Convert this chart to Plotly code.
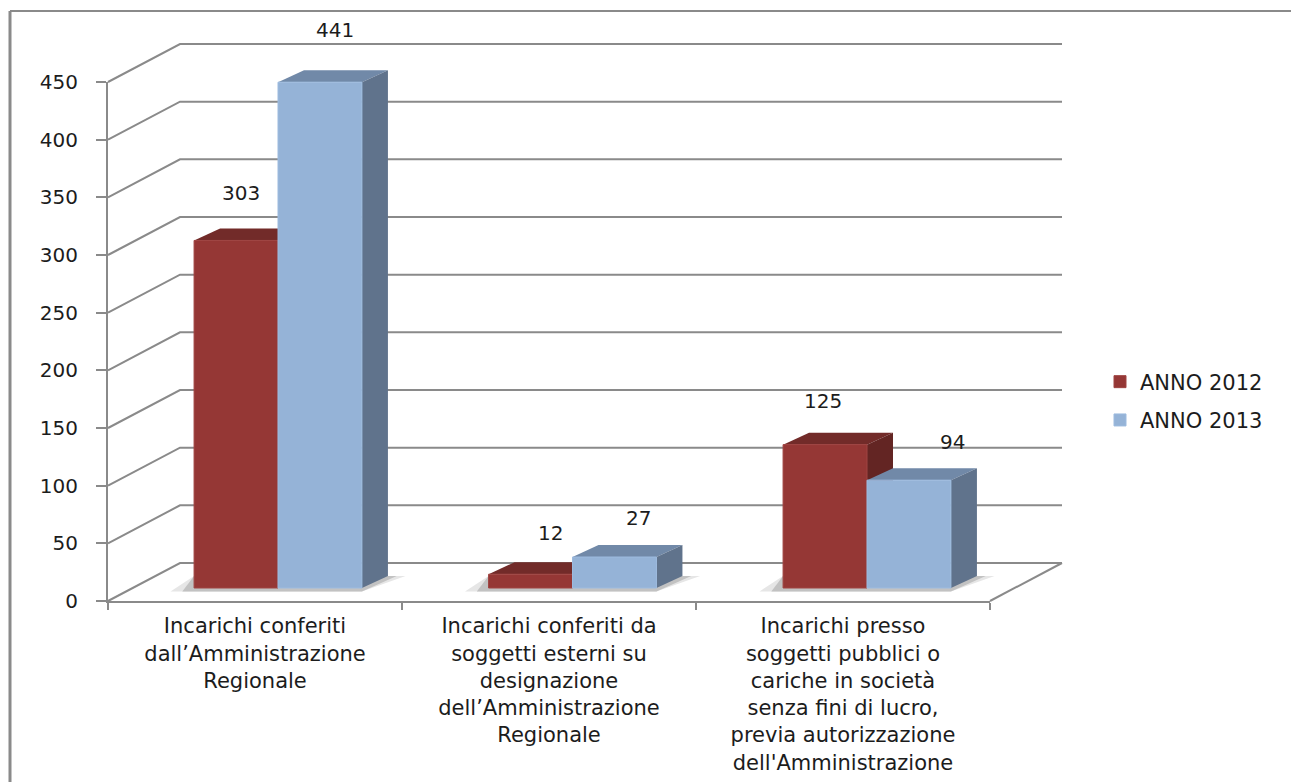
import plotly.graph_objects as go

categorie = [
    "Incarichi conferiti<br>dall’Amministrazione<br>Regionale",
    "Incarichi conferiti da<br>soggetti esterni su<br>designazione<br>dell’Amministrazione<br>Regionale",
    "Incarichi presso<br>soggetti pubblici o<br>cariche in società<br>senza fini di lucro,<br>previa autorizzazione<br>dell'Amministrazione",
]
anno_2012 = [303, 12, 125]
anno_2013 = [441, 27, 94]
tick_valori = [0, 50, 100, 150, 200, 250, 300, 350, 400, 450]

# the browser leaves an 8px body margin, so everything below is page px minus 8
W, H = 1291, 774
GRIGIO = "#8a8a8a"
TESTO = "#1c1c1c"
FONT = "DejaVu Sans"
BARGAP = 0.43
SCALA_BARRE = 1.147  # px per unit on the plane of the bars


def fx(px):
    return (px - 8) / W


def fy(py):
    return 1 - (py - 8) / H


def fy_muro(valore):
    # same scale as the left axis, in paper units: shapes on yref y get clipped at 450
    return fy(601) + valore / 450 * (fy(82) - fy(601))


posizioni = list(range(len(categorie)))
w = (1 - BARGAP) / 2      # bar width in category units
dx = 26 / 294.5           # depth of the bars
dy = 12 / SCALA_BARRE

fig = go.Figure()

# keeps the front axis alive, the bars live on the shifted x2/y2 plane
fig.add_trace(go.Scatter(x=categorie, y=[None] * 3, showlegend=False, hoverinfo="skip"))
fig.add_trace(go.Bar(x=posizioni, y=anno_2012, name="ANNO 2012", xaxis="x2", yaxis="y2", legendgroup="a",
                     marker=dict(color="#953735", line=dict(color="#9f4442", width=1))))
fig.add_trace(go.Bar(x=posizioni, y=anno_2013, name="ANNO 2013", xaxis="x2", yaxis="y2", legendgroup="b",
                     marker=dict(color="#95b3d7", line=dict(color="#9dbbdf", width=1))))

shapes = []


def linea_muro(anchor_x, valore, path):
    return dict(type="path", path=path, xref="paper", yref="paper", xsizemode="pixel", ysizemode="pixel",
                xanchor=anchor_x, yanchor=fy_muro(valore), layer="below", line=dict(color=GRIGIO, width=2))


for t in tick_valori:
    shapes.append(linea_muro(fx(108), t, "M 0,0 L 72,38 L 954,38"))
shapes.append(linea_muro(fx(990), 0, "M 0,0 L 72,38"))


def ombra(sinistra, destra):
    # soft floor shadow round the pair of bars
    for colore, off in (("#e6e6e6", 1.0), ("#c2c2c2", 0.5)):
        shapes.append(dict(
            type="path", xref="x2", yref="y2", layer="below", line=dict(width=0), fillcolor=colore,
            path=f"M {sinistra - 0.08 * off},-3 L {sinistra},{dy} L {destra + dx},{dy} "
                 f"L {destra + dx + 0.06 * off},{dy} L {destra},-3 Z"))


def facce(left, right, valore, col_top, col_side):
    top = f"M {left},{valore} L {left + dx},{valore + dy} L {right + dx},{valore + dy} L {right},{valore} Z"
    side = f"M {right},{valore} L {right + dx},{valore + dy} L {right + dx},{dy} L {right},0 Z"
    shapes.append(dict(type="path", path=top, xref="x2", yref="y2", layer="below",
                       fillcolor=col_top, line=dict(width=0)))
    shapes.append(dict(type="path", path=side, xref="x2", yref="y2", layer="below",
                       fillcolor=col_side, line=dict(width=0)))


for i in posizioni:
    ombra(i - w, i + w)
for i in posizioni:
    facce(i - w, i, anno_2012[i], "#722b29", "#632523")
    facce(i, i + w, anno_2013[i], "#7189a8", "#60738c")

# chart frame, only top and left are visible in the source
shapes.append(dict(type="line", xref="paper", yref="paper", x0=fx(10), x1=fx(10), y0=fy(11), y1=fy(782),
                   line=dict(color=GRIGIO, width=3)))
shapes.append(dict(type="line", xref="paper", yref="paper", x0=fx(10), x1=fx(1299), y0=fy(11), y1=fy(11),
                   line=dict(color=GRIGIO, width=2)))

annotazioni = []
spost_2012 = [(5, 47), (20, 41), (-2, 44)]
spost_2013 = [(15, 52), (24, 39), (44, 38)]
for i in posizioni:
    annotazioni.append(dict(x=i - w / 2, y=anno_2012[i], xref="x2", yref="y2", text=str(anno_2012[i]),
                            showarrow=False, xshift=spost_2012[i][0], yshift=spost_2012[i][1],
                            font=dict(family=FONT, size=20, color=TESTO)))
    annotazioni.append(dict(x=i + w / 2, y=anno_2013[i], xref="x2", yref="y2", text=str(anno_2013[i]),
                            showarrow=False, xshift=spost_2013[i][0], yshift=spost_2013[i][1],
                            font=dict(family=FONT, size=20, color=TESTO)))

fig.update_layout(
    width=W,
    height=H,
    margin=dict(l=0, r=0, t=0, b=0),
    paper_bgcolor="white",
    plot_bgcolor="rgba(0,0,0,0)",
    barmode="group",
    bargap=BARGAP,
    bargroupgap=0,
    shapes=shapes,
    annotations=annotazioni,
    font=dict(family=FONT, color=TESTO),
    xaxis=dict(
        type="category", categoryorder="array", categoryarray=categorie, range=[-0.5, 2.5],
        domain=[fx(108), fx(990)], anchor="y", tickson="boundaries", ticks="outside", ticklen=7, tickwidth=2,
        tickcolor=GRIGIO, showline=True, linecolor=GRIGIO, linewidth=2, showgrid=False, zeroline=False,
        tickfont=dict(family=FONT, size=21, color=TESTO), tickangle=0, ticklabelstandoff=5, automargin=False,
    ),
    yaxis=dict(
        range=[0, 450], domain=[fy(601), fy(82)], anchor="x", tickvals=tick_valori, ticks="outside", ticklen=10,
        tickwidth=2, tickcolor=GRIGIO, showline=True, linecolor=GRIGIO, linewidth=2, showgrid=False, zeroline=False,
        tickfont=dict(family=FONT, size=20, color=TESTO), ticklabelstandoff=14, automargin=False,
    ),
    # plane of the bars: not overlaying, an overlaying axis would lose its own domain
    xaxis2=dict(range=[-0.5, 2.5], domain=[fx(130.75), fx(1014.25)], anchor="y2", visible=False),
    yaxis2=dict(range=[-10, 470], domain=[fy(588 + 10 * SCALA_BARRE), fy(588 - 470 * SCALA_BARRE)], anchor="x2",
                visible=False),
    legend=dict(
        x=fx(1100), y=fy(401), xanchor="left", yanchor="middle", bgcolor="rgba(0,0,0,0)", traceorder="grouped",
        tracegroupgap=8, itemclick=False, font=dict(family=FONT, size=21, color=TESTO),
    ),
)

fig.write_html("out.html")
